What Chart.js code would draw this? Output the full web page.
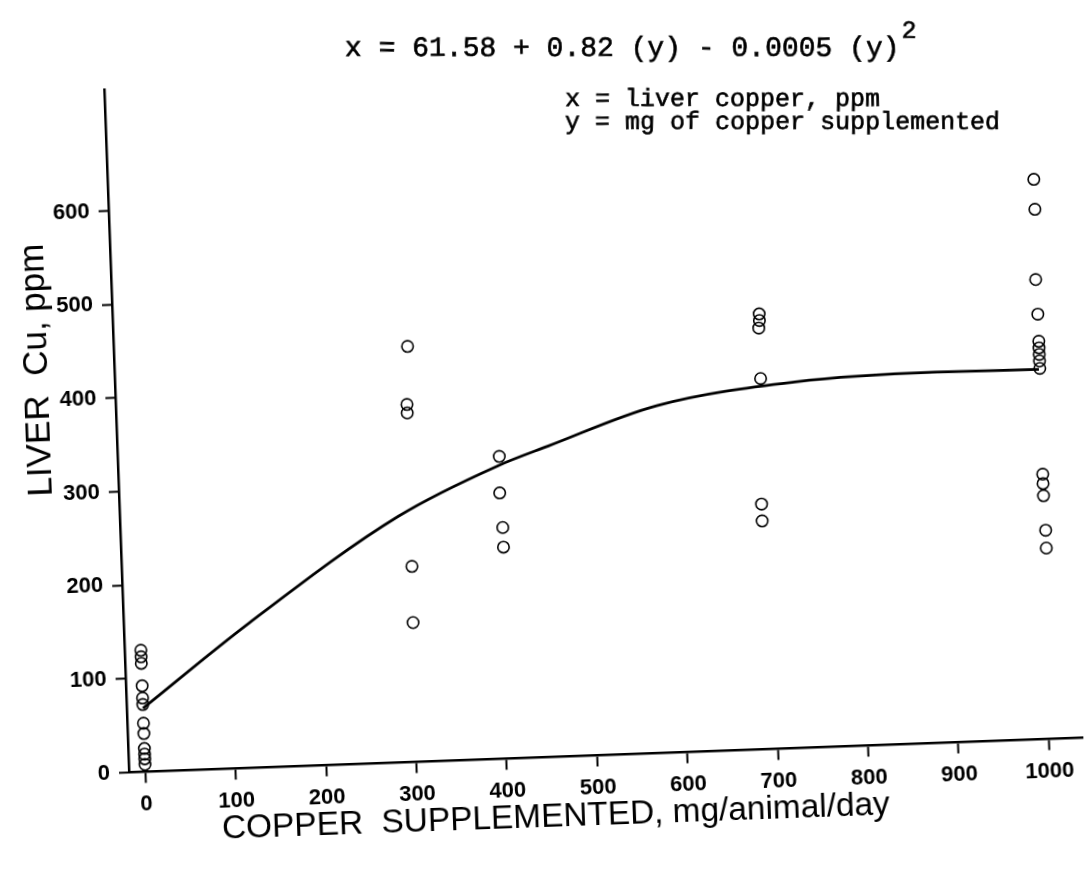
<!DOCTYPE html>
<html lang="en">
<head>
    <meta charset="UTF-8">
    <title>Liver copper</title>
    <script src="https://cdn.jsdelivr.net/npm/chart.js"></script>
    <style>
        html, body { margin: 0; padding: 0; background: #fff; overflow: hidden; }
        #quadro { width: 1091px; height: 869px; position: relative; overflow: hidden; background: #fff; }
        /* the scan is tilted about 2 degrees, pivot on the axis corner */
        #grafico { position: absolute; left: 0; top: 0; transform-origin: 129px 772.5px; transform: rotate(-2.08deg); }
    </style>
</head>
<body>
    <div id="quadro">
        <canvas id="grafico" width="1091" height="869"></canvas>
    </div>
<script>
    // copper supplemented (mg/animal/day) and liver Cu (ppm)
    var doseMg = [0, 0, 0, 0, 0, 0, 0, 0, 0, 0, 0, 0,
        307, 304, 304, 303, 302,
        404, 403, 405, 405,
        697, 697, 696, 696, 692, 692,
        1006, 1006, 1004, 1005, 1005, 1005, 1005, 1005, 1005, 1004, 1004, 1004, 1005, 1005];
    var liverCu = [130, 123, 116, 92, 79, 72, 52, 41, 25, 19, 14, 8,
        444, 382, 373, 209, 149,
        323, 284, 247, 226,
        465, 458, 450, 396, 262, 244,
        598, 566, 491, 454, 425, 418, 411, 404, 396, 283, 273, 260, 223, 204];

    // fitted curve, points
    var curvaX = [0, 121, 290, 402, 458, 580, 734, 889, 1004];
    var curvaY = [68, 155, 263, 313, 332, 371, 391, 396, 395];

    var xTicks = [0, 100, 200, 300, 400, 500, 600, 700, 800, 900, 1000];
    var yTicks = [0, 100, 200, 300, 400, 500, 600];

    var equacao = "x = 61.58 + 0.82 (y) - 0.0005 (y)";
    var legenda = ["x = liver copper, ppm", "y = mg of copper supplemented"];
    var tituloX = "COPPER  SUPPLEMENTED, mg/animal/day";
    var tituloY = "LIVER  Cu, ppm";

    var angulo = 2.08 * Math.PI / 180;

    var pontos = [];
    for (let i = 0; i < doseMg.length; i++) {
        pontos.push({ x: doseMg[i], y: liverCu[i] });
    }
    var curva = [];
    for (let i = 0; i < curvaX.length; i++) {
        curva.push({ x: curvaX[i], y: curvaY[i] });
    }

    function escreve(ctx, txt, x, y) {
        ctx.fillText(txt, x, y);
        ctx.strokeText(txt, x, y);
    }

    const textos = {
        id: 'textos',
        afterDraw(chart) {
            const ctx = chart.ctx;
            ctx.save();
            ctx.fillStyle = '#000';
            ctx.strokeStyle = '#000';

            // y axis title
            ctx.save();
            ctx.font = '35px "Liberation Sans"';
            ctx.textAlign = 'center';
            ctx.textBaseline = 'middle';
            ctx.translate(52, 367);
            ctx.rotate(-Math.PI / 2);
            ctx.fillText(tituloY, 0, 0, 260);
            ctx.restore();

            // x axis title
            ctx.font = '34px "Liberation Sans"';
            ctx.textAlign = 'center';
            ctx.textBaseline = 'middle';
            ctx.fillText(tituloX, 554, 833, 668);

            // typed equation sits level on the page, undo the tilt
            ctx.translate(129, 772.5);
            ctx.rotate(angulo);
            ctx.translate(-129, -772.5);
            ctx.textAlign = 'left';
            ctx.textBaseline = 'alphabetic';
            ctx.lineWidth = 0.6;
            ctx.font = '28px "Liberation Mono"';
            escreve(ctx, equacao, 345, 56);
            var w = ctx.measureText(equacao).width;
            ctx.font = '25px "Liberation Mono"';
            escreve(ctx, "2", 345 + w + 2, 38);

            ctx.font = '25px "Liberation Mono"';
            escreve(ctx, legenda[0], 565, 106);
            escreve(ctx, legenda[1], 565, 129);
            ctx.restore();
        }
    };

    const fonteTicks = { family: 'Liberation Sans', weight: 'bold', size: 22 };

    const grafico = {
        type: 'scatter',
        data: {
            datasets: [
                {
                    label: 'curva',
                    data: curva,
                    showLine: true,
                    pointRadius: 0,
                    borderColor: '#000',
                    borderWidth: 2.8,
                    cubicInterpolationMode: 'monotone',
                    fill: false
                },
                {
                    label: 'liver Cu',
                    data: pontos,
                    pointStyle: 'circle',
                    pointRadius: 5.7,
                    pointBorderWidth: 1.6,
                    pointBorderColor: '#000',
                    pointBackgroundColor: 'rgba(0,0,0,0)'
                }
            ]
        },
        options: {
            responsive: false,
            devicePixelRatio: 1,
            animation: false,
            clip: false,
            layout: { padding: { top: 89, right: 0, left: 0, bottom: 0 } },
            plugins: {
                legend: { display: false },
                tooltip: { enabled: false }
            },
            scales: {
                x: {
                    type: 'linear',
                    min: -18,
                    max: 1038,
                    afterBuildTicks: function (s) { s.ticks = xTicks.map(v => ({ value: v })); },
                    afterFit: function (s) { s.height = 96.5; },
                    grid: { drawOnChartArea: false, tickLength: 11, tickWidth: 2, color: '#000' },
                    border: { display: true, color: '#000', width: 2.5 },
                    ticks: { color: '#000', font: fonteTicks, padding: 8, maxRotation: 0, autoSkip: false,
                        callback: function (v) { return String(v); } }
                },
                y: {
                    type: 'linear',
                    min: 0,
                    max: 730,
                    afterBuildTicks: function (s) { s.ticks = yTicks.map(v => ({ value: v })); },
                    afterFit: function (s) { s.width = 129; },
                    grid: { drawOnChartArea: false, tickLength: 10, tickWidth: 2, color: '#000' },
                    border: { display: true, color: '#000', width: 2.5 },
                    ticks: { color: '#000', font: fonteTicks, padding: 9, autoSkip: false,
                        callback: function (v) { return String(v); } }
                }
            }
        },
        plugins: [textos]
    };

    var analise = new Chart(document.getElementById('grafico'), grafico);
</script>
</body>
</html>
